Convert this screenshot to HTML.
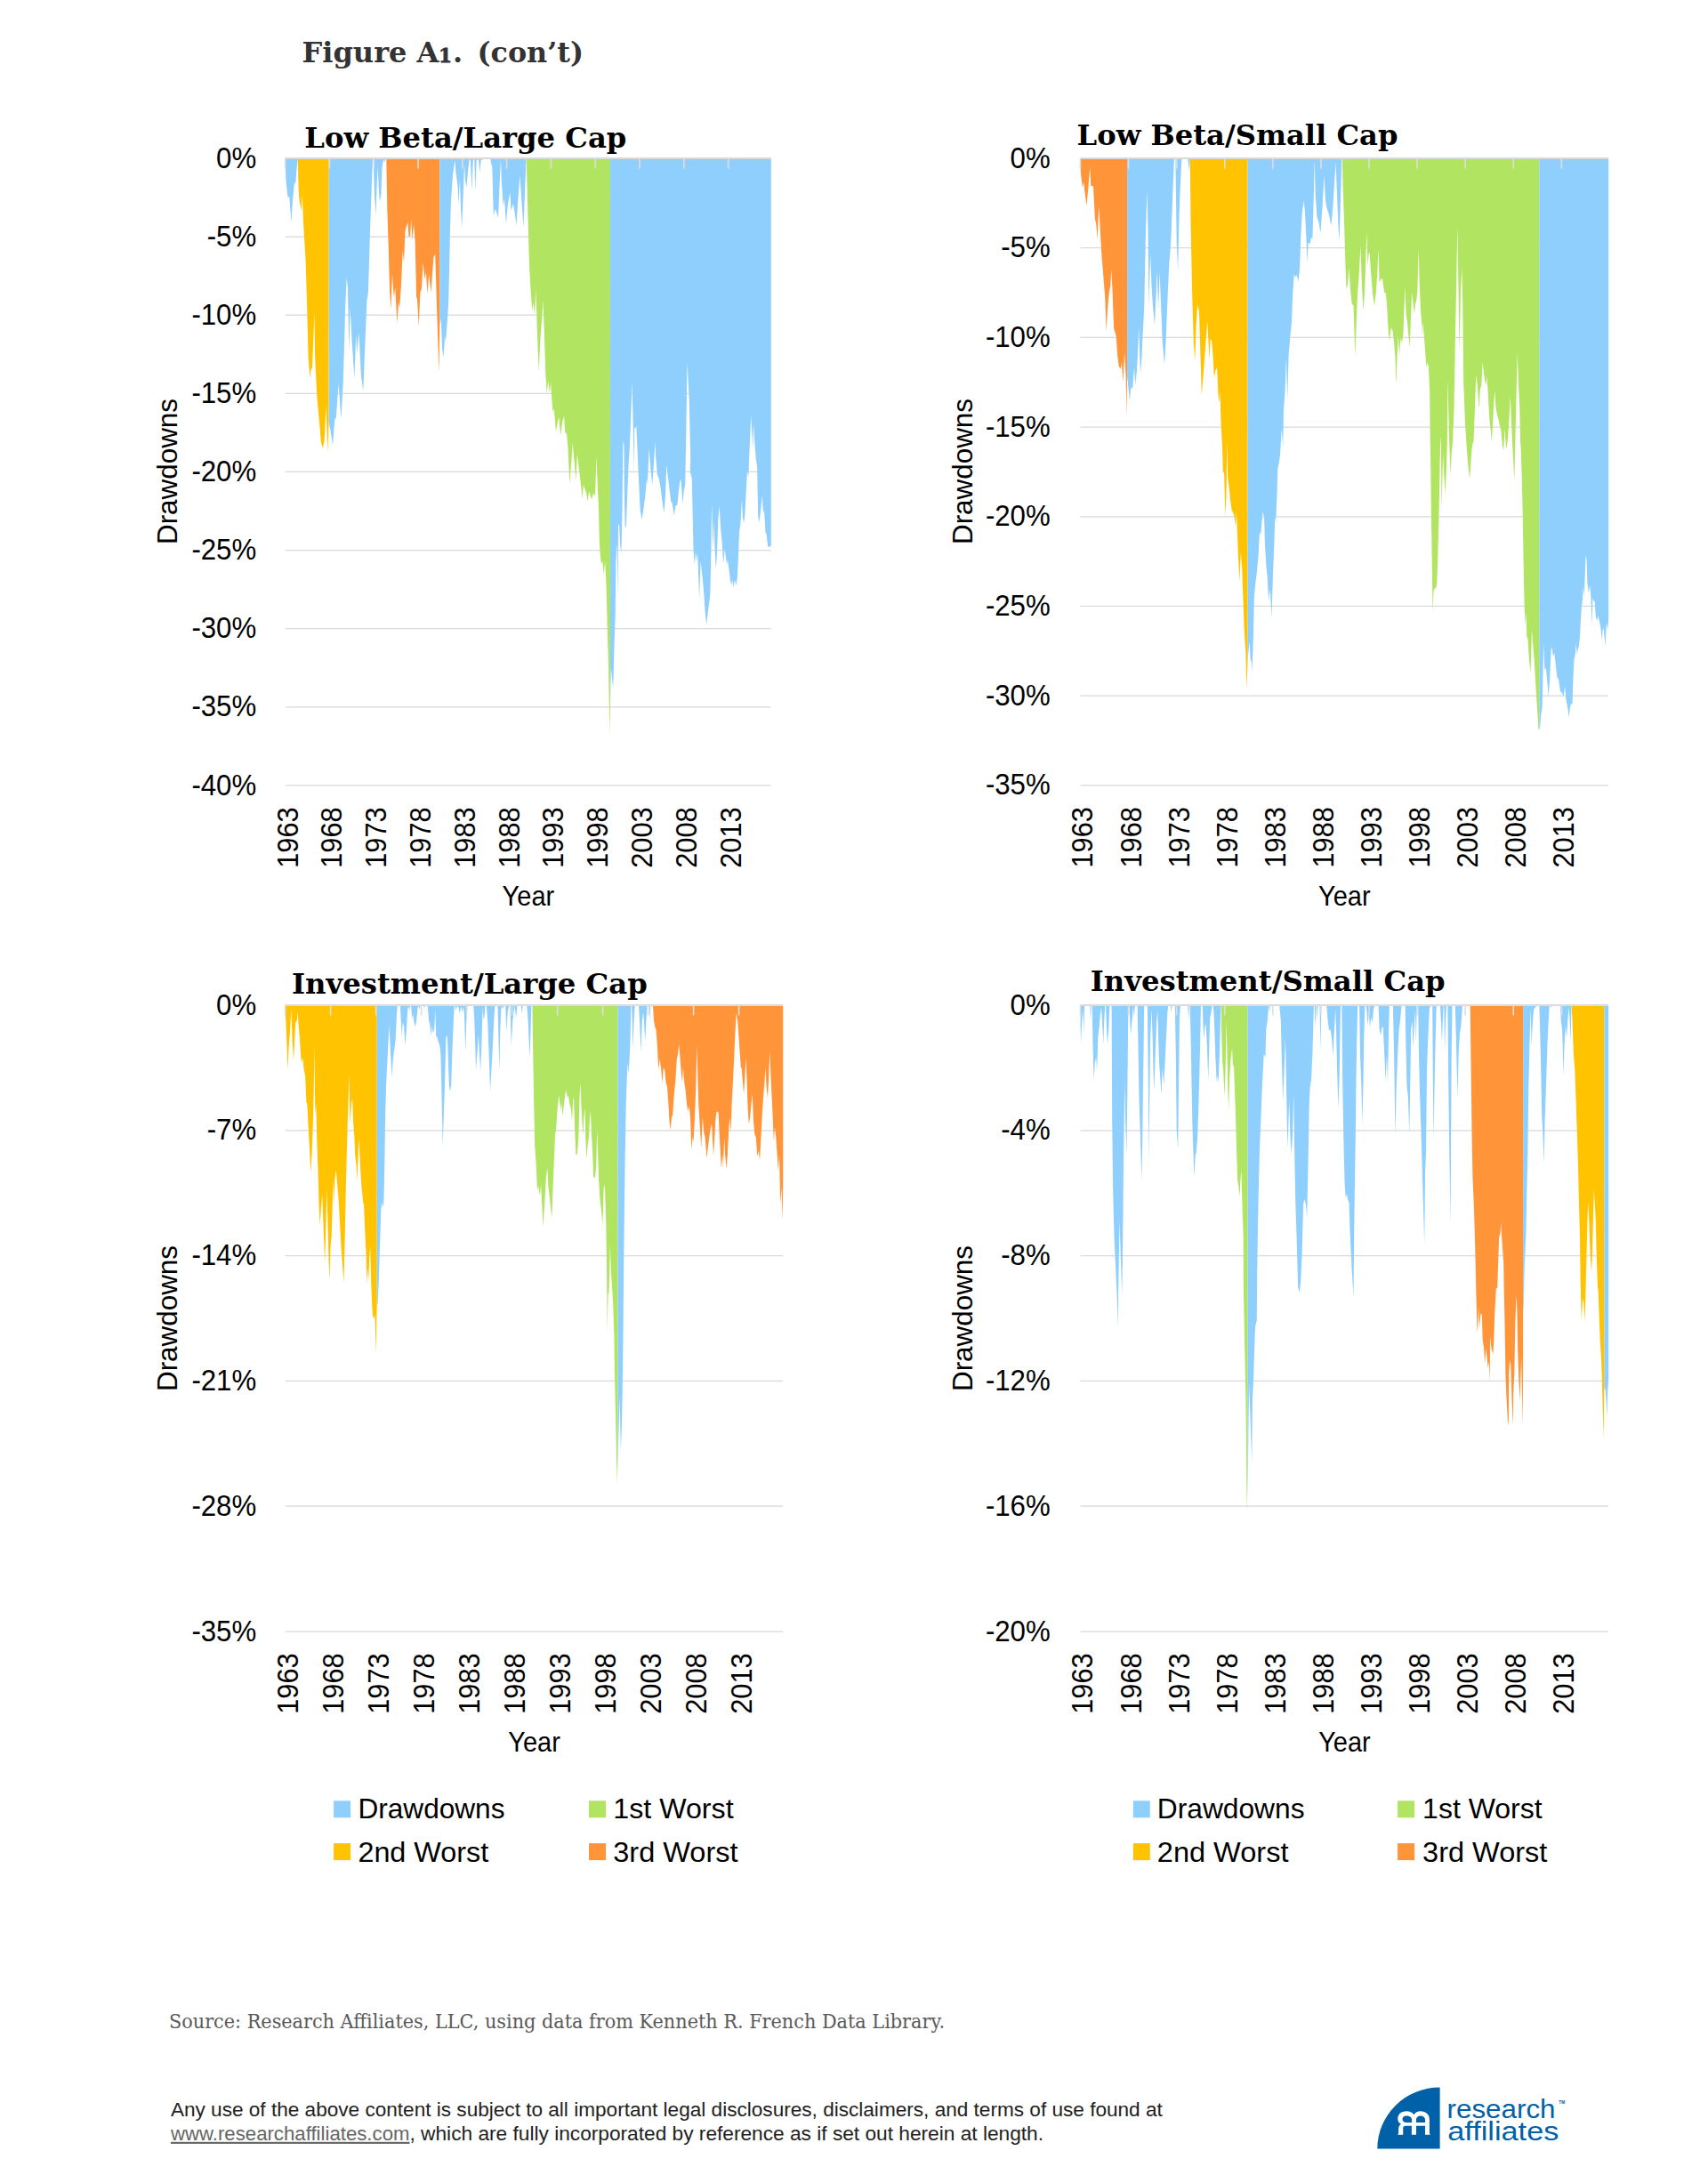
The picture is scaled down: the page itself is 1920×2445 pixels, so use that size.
<!DOCTYPE html>
<html lang="en"><head><meta charset="utf-8"><title>Figure A1. (con’t)</title>
<style>
html,body{margin:0;padding:0;background:#fff}
svg{display:block}
.ax{font-family:"Liberation Sans", Arial, sans-serif;font-size:32.5px;fill:#000}
.al{font-family:"Liberation Sans", Arial, sans-serif;font-size:30.5px;fill:#000}
.ttl{font-family:"DejaVu Serif", "Liberation Serif", serif;font-weight:bold;font-size:31px;fill:#000}
.fig{font-family:"DejaVu Serif", "Liberation Serif", serif;font-weight:bold;font-size:32px;fill:#333}
.sline{font-family:"DejaVu Serif", "Liberation Serif", serif;font-size:22.3px;fill:#5a5a5a}
.dis{font-family:"Liberation Sans", Arial, sans-serif;font-size:21.5px;fill:#222}
.logo{font-family:"Liberation Sans", Arial, sans-serif;font-size:29.5px;fill:#0061A9}
</style></head><body>
<svg width="1920" height="2445" viewBox="0 0 1920 2445">
<rect width="1920" height="2445" fill="#fff"/>
<line x1="320.6" x2="866.7" y1="178.00" y2="178.00" stroke="#D9D9D9" stroke-width="1.25"/>
<line x1="320.6" x2="866.7" y1="266.12" y2="266.12" stroke="#D9D9D9" stroke-width="1.25"/>
<line x1="320.6" x2="866.7" y1="354.24" y2="354.24" stroke="#D9D9D9" stroke-width="1.25"/>
<line x1="320.6" x2="866.7" y1="442.36" y2="442.36" stroke="#D9D9D9" stroke-width="1.25"/>
<line x1="320.6" x2="866.7" y1="530.48" y2="530.48" stroke="#D9D9D9" stroke-width="1.25"/>
<line x1="320.6" x2="866.7" y1="618.60" y2="618.60" stroke="#D9D9D9" stroke-width="1.25"/>
<line x1="320.6" x2="866.7" y1="706.72" y2="706.72" stroke="#D9D9D9" stroke-width="1.25"/>
<line x1="320.6" x2="866.7" y1="794.84" y2="794.84" stroke="#D9D9D9" stroke-width="1.25"/>
<line x1="320.6" x2="866.7" y1="882.96" y2="882.96" stroke="#D9D9D9" stroke-width="1.25"/>
<polygon fill="#8FCFFD" points="320.6,178.9 320.6,178.9 321.5,203.1 323.4,220.9 325.3,221.8 327.5,249.9 329.0,225.6 330.9,205.0 332.2,206.8 333.7,188.1 334.8,178.9 334.8,178.9"/>
<polygon fill="#FFC301" points="334.8,178.9 334.8,178.9 335.6,212.5 336.5,225.6 338.8,236.8 339.7,218.1 341.2,253.7 343.5,291.1 345.0,338.0 346.5,399.8 348.3,425.1 349.3,416.7 351.0,412.9 353.4,351.1 354.0,397.9 356.2,444.8 359.0,474.8 360.9,497.2 362.8,503.8 364.6,495.4 366.5,456.0 368.4,508.5 369.5,478.5 369.7,178.9 369.7,178.9"/>
<polygon fill="#8FCFFD" points="369.7,178.9 369.7,178.9 369.7,474.8 372.1,487.9 374.0,500.0 376.4,471.0 377.8,470.1 380.6,431.7 383.4,471.0 385.8,429.8 388.1,347.4 389.6,312.7 390.9,323.0 392.4,394.2 393.7,345.5 395.6,383.0 398.4,425.1 400.2,375.5 401.2,397.9 403.4,373.6 405.9,422.3 408.3,439.2 410.5,384.8 412.4,338.0 413.9,328.6 416.2,253.7 418.0,203.1 419.0,178.9 419.9,178.9 420.8,216.2 422.3,242.4 423.7,206.8 424.6,186.2 425.9,214.3 426.8,226.5 428.3,220.0 429.6,188.1 431.1,178.9 432.1,182.5 433.4,178.9 433.4,178.9"/>
<polygon fill="#FF9438" points="434.3,178.9 434.3,178.9 435.3,234.9 436.8,279.9 438.1,328.6 439.6,347.4 440.9,308.0 442.8,334.2 444.3,323.0 446.3,363.3 448.0,339.9 449.1,346.4 450.8,323.0 452.7,281.8 454.0,294.9 455.5,259.3 458.3,249.9 459.6,266.8 461.1,264.9 462.2,246.2 463.6,270.5 465.2,251.8 466.7,272.4 468.1,334.2 469.0,336.1 470.7,367.0 472.4,328.6 473.9,324.9 475.6,294.9 477.4,313.6 478.9,306.1 480.4,330.5 482.1,308.0 484.5,328.6 487.4,289.3 489.2,285.5 491.1,347.4 493.5,418.5 494.3,366.1 494.3,178.9 494.3,178.9"/>
<polygon fill="#8FCFFD" points="494.3,178.9 494.3,178.9 494.3,366.1 495.8,358.6 497.1,392.3 498.6,401.7 500.1,377.3 501.0,384.8 502.3,368.0 504.2,339.9 506.1,253.7 507.0,225.6 508.9,197.5 511.3,180.6 512.6,195.6 514.5,208.7 515.5,229.3 517.0,201.2 517.9,231.2 519.2,256.5 520.3,229.3 522.0,184.4 523.0,203.1 524.4,210.6 526.3,190.0 527.6,178.9 528.9,180.6 530.4,214.3 531.8,180.6 533.3,178.9 534.2,215.3 535.7,180.6 537.9,178.9 539.4,193.7 540.7,179.7 543.6,178.9 543.6,178.9"/>
<polygon fill="#8FCFFD" points="551.1,178.9 551.1,178.9 553.3,188.1 554.8,242.4 556.7,234.9 558.2,238.7 560.0,245.2 561.7,205.0 563.0,178.9 563.8,203.1 565.7,231.2 567.0,223.7 568.9,251.8 570.7,231.2 573.2,216.2 574.5,236.8 576.9,229.3 578.6,238.7 580.5,253.7 582.0,229.3 584.4,197.5 586.3,225.6 588.5,255.6 590.0,216.2 591.5,178.9 591.5,178.9"/>
<polygon fill="#B0E461" points="591.8,178.9 591.8,178.9 592.7,216.2 594.1,264.9 595.0,298.6 596.5,324.9 598.2,349.2 599.7,339.9 601.0,353.9 602.5,324.9 603.8,371.7 605.7,417.6 607.5,379.2 609.4,354.8 610.5,338.0 611.9,375.5 613.2,418.5 614.7,442.9 616.2,427.9 618.0,442.0 619.0,429.8 620.3,448.5 621.6,463.5 622.7,459.8 625.0,485.1 626.8,474.8 628.3,469.1 630.2,489.7 632.1,474.8 634.0,467.3 635.3,486.0 637.1,487.9 638.5,502.9 640.3,544.0 642.2,520.6 643.7,498.1 645.6,518.7 647.4,539.3 648.9,510.3 651.2,530.0 653.1,545.0 654.6,560.9 655.9,545.0 657.8,550.6 659.1,554.3 660.6,563.7 662.1,552.5 663.4,556.2 665.2,561.8 667.1,554.3 669.0,558.1 670.5,513.1 671.8,546.8 673.1,574.9 673.7,604.9 674.6,621.8 675.9,634.0 677.4,631.1 678.7,646.1 680.2,631.1 681.2,649.9 682.1,678.0 683.0,715.5 684.0,751.1 684.9,799.8 685.5,826.0 685.9,792.3 685.9,178.9 685.9,178.9"/>
<polygon fill="#8FCFFD" points="685.9,178.9 685.9,178.9 685.9,792.3 686.8,751.1 689.2,773.5 690.5,724.8 691.7,691.1 692.4,631.1 693.3,612.4 693.7,616.2 694.5,674.2 695.0,589.9 696.2,589.9 697.1,612.4 698.4,621.8 699.5,574.9 700.3,500.0 700.8,495.4 701.4,500.0 701.8,556.2 702.7,594.6 704.0,589.9 705.2,556.2 706.5,524.4 708.0,500.0 710.6,429.8 711.7,478.5 712.5,530.0 713.2,480.4 714.1,482.2 715.3,478.5 716.4,502.9 717.7,532.8 719.6,573.1 721.5,584.3 723.3,573.1 725.2,558.1 727.1,537.5 728.0,545.0 729.5,503.7 731.4,528.1 733.3,545.0 735.1,518.7 736.4,497.2 737.4,516.0 738.9,533.7 740.7,537.5 742.6,548.7 744.5,563.7 746.4,576.8 748.1,556.2 749.2,522.5 750.5,533.7 752.4,548.7 754.2,563.7 755.7,565.6 757.6,579.6 759.5,568.4 761.4,567.4 762.7,554.3 764.5,540.3 765.5,539.3 767.4,566.5 768.9,550.6 770.2,545.0 771.1,497.2 772.6,407.3 774.8,450.4 776.2,516.0 775.8,530.0 777.7,537.5 778.6,574.9 779.5,618.0 780.8,634.9 782.0,619.9 782.9,631.1 784.2,621.8 786.1,672.4 787.6,631.1 788.9,642.4 790.8,661.1 792.6,687.4 794.1,702.3 796.4,683.6 798.3,668.6 799.2,631.1 800.1,565.6 801.5,616.2 802.6,586.2 803.5,616.2 804.8,640.5 806.1,619.9 807.3,584.3 808.6,568.4 810.1,593.7 811.4,606.8 813.3,634.0 814.6,616.2 816.1,627.4 817.0,634.9 817.9,629.3 819.8,642.4 820.7,650.8 822.2,658.3 823.2,651.8 824.5,660.2 826.0,651.8 827.3,658.3 828.8,649.9 830.1,621.8 831.1,597.4 832.4,589.0 833.9,561.8 834.8,580.6 836.1,588.1 837.2,580.6 838.5,556.2 840.0,530.0 841.4,535.6 842.3,511.2 844.2,467.3 845.7,493.5 846.2,506.6 847.0,476.6 848.3,497.2 849.8,516.0 851.1,524.4 851.7,556.2 852.2,580.6 853.5,587.1 855.0,574.9 856.7,557.1 857.8,573.1 859.2,576.8 860.5,599.3 861.6,600.2 862.9,612.4 863.8,615.2 865.2,614.3 866.8,613.3 866.8,178.9 866.8,178.9"/>
<line x1="320.6" x2="866.7" y1="178.00" y2="178.00" stroke="#D9D9D9" stroke-width="1.8"/>
<line x1="320.6" x2="320.6" y1="178.0" y2="189.5" stroke="#DEDEDE" stroke-width="1.6"/>
<line x1="370.4" x2="370.4" y1="178.0" y2="189.5" stroke="#DEDEDE" stroke-width="1.6"/>
<line x1="420.2" x2="420.2" y1="178.0" y2="189.5" stroke="#DEDEDE" stroke-width="1.6"/>
<line x1="470.0" x2="470.0" y1="178.0" y2="189.5" stroke="#DEDEDE" stroke-width="1.6"/>
<line x1="519.8" x2="519.8" y1="178.0" y2="189.5" stroke="#DEDEDE" stroke-width="1.6"/>
<line x1="569.6" x2="569.6" y1="178.0" y2="189.5" stroke="#DEDEDE" stroke-width="1.6"/>
<line x1="619.4" x2="619.4" y1="178.0" y2="189.5" stroke="#DEDEDE" stroke-width="1.6"/>
<line x1="669.2" x2="669.2" y1="178.0" y2="189.5" stroke="#DEDEDE" stroke-width="1.6"/>
<line x1="719.0" x2="719.0" y1="178.0" y2="189.5" stroke="#DEDEDE" stroke-width="1.6"/>
<line x1="768.8" x2="768.8" y1="178.0" y2="189.5" stroke="#DEDEDE" stroke-width="1.6"/>
<line x1="818.6" x2="818.6" y1="178.0" y2="189.5" stroke="#DEDEDE" stroke-width="1.6"/>
<text transform="translate(288.2,188.6) scale(0.96,1)" text-anchor="end" class="ax">0%</text>
<text transform="translate(288.2,276.7) scale(0.96,1)" text-anchor="end" class="ax">-5%</text>
<text transform="translate(288.2,364.8) scale(0.96,1)" text-anchor="end" class="ax">-10%</text>
<text transform="translate(288.2,453.0) scale(0.96,1)" text-anchor="end" class="ax">-15%</text>
<text transform="translate(288.2,541.1) scale(0.96,1)" text-anchor="end" class="ax">-20%</text>
<text transform="translate(288.2,629.2) scale(0.96,1)" text-anchor="end" class="ax">-25%</text>
<text transform="translate(288.2,717.3) scale(0.96,1)" text-anchor="end" class="ax">-30%</text>
<text transform="translate(288.2,805.4) scale(0.96,1)" text-anchor="end" class="ax">-35%</text>
<text transform="translate(288.2,893.6) scale(0.96,1)" text-anchor="end" class="ax">-40%</text>
<text transform="translate(334.6,907.4) rotate(-90) scale(0.945,1)" text-anchor="end" class="ax">1963</text>
<text transform="translate(384.4,907.4) rotate(-90) scale(0.945,1)" text-anchor="end" class="ax">1968</text>
<text transform="translate(434.2,907.4) rotate(-90) scale(0.945,1)" text-anchor="end" class="ax">1973</text>
<text transform="translate(484.0,907.4) rotate(-90) scale(0.945,1)" text-anchor="end" class="ax">1978</text>
<text transform="translate(533.8,907.4) rotate(-90) scale(0.945,1)" text-anchor="end" class="ax">1983</text>
<text transform="translate(583.6,907.4) rotate(-90) scale(0.945,1)" text-anchor="end" class="ax">1988</text>
<text transform="translate(633.4,907.4) rotate(-90) scale(0.945,1)" text-anchor="end" class="ax">1993</text>
<text transform="translate(683.2,907.4) rotate(-90) scale(0.945,1)" text-anchor="end" class="ax">1998</text>
<text transform="translate(733.0,907.4) rotate(-90) scale(0.945,1)" text-anchor="end" class="ax">2003</text>
<text transform="translate(782.8,907.4) rotate(-90) scale(0.945,1)" text-anchor="end" class="ax">2008</text>
<text transform="translate(832.6,907.4) rotate(-90) scale(0.945,1)" text-anchor="end" class="ax">2013</text>
<text x="342.3" y="165.7" class="ttl" textLength="362.0" lengthAdjust="spacingAndGlyphs">Low Beta/Large Cap</text>
<text x="564.6" y="1017.5" class="al" textLength="58.6" lengthAdjust="spacingAndGlyphs">Year</text>
<text transform="translate(198.7,612.0) rotate(-90)" class="al" textLength="164" lengthAdjust="spacingAndGlyphs">Drawdowns</text>
<line x1="1214.4" x2="1808.2" y1="178.00" y2="178.00" stroke="#D9D9D9" stroke-width="1.25"/>
<line x1="1214.4" x2="1808.2" y1="278.69" y2="278.69" stroke="#D9D9D9" stroke-width="1.25"/>
<line x1="1214.4" x2="1808.2" y1="379.38" y2="379.38" stroke="#D9D9D9" stroke-width="1.25"/>
<line x1="1214.4" x2="1808.2" y1="480.07" y2="480.07" stroke="#D9D9D9" stroke-width="1.25"/>
<line x1="1214.4" x2="1808.2" y1="580.76" y2="580.76" stroke="#D9D9D9" stroke-width="1.25"/>
<line x1="1214.4" x2="1808.2" y1="681.45" y2="681.45" stroke="#D9D9D9" stroke-width="1.25"/>
<line x1="1214.4" x2="1808.2" y1="782.14" y2="782.14" stroke="#D9D9D9" stroke-width="1.25"/>
<line x1="1214.4" x2="1808.2" y1="882.83" y2="882.83" stroke="#D9D9D9" stroke-width="1.25"/>
<polygon fill="#FF9438" points="1214.4,178.9 1214.4,178.9 1215.0,195.6 1216.9,210.6 1218.2,205.0 1219.7,218.1 1221.5,231.2 1223.4,210.6 1225.3,188.1 1226.2,208.7 1229.0,209.6 1230.9,246.2 1232.2,251.8 1233.7,268.7 1235.2,231.2 1236.5,253.7 1238.4,287.4 1240.3,309.9 1242.2,334.2 1243.7,372.6 1245.0,347.4 1246.8,328.6 1248.3,321.1 1249.3,302.4 1250.6,328.6 1252.1,368.9 1253.4,373.6 1254.7,378.3 1256.2,399.8 1257.7,412.0 1259.6,414.8 1260.9,407.3 1262.4,429.8 1264.1,396.1 1265.6,422.3 1266.5,469.1 1267.1,422.3 1267.1,178.9 1267.1,178.9"/>
<polygon fill="#8FCFFD" points="1267.1,178.9 1267.1,178.9 1267.1,422.3 1268.4,435.4 1269.9,451.3 1271.2,435.4 1272.1,437.3 1273.4,434.5 1274.9,412.9 1276.3,432.6 1277.8,418.5 1278.7,403.6 1280.2,368.0 1281.9,419.5 1283.4,403.6 1284.7,373.6 1286.2,347.4 1287.7,272.4 1289.4,214.3 1290.5,257.4 1291.4,343.6 1293.1,285.5 1294.6,323.0 1295.9,343.6 1298.0,365.2 1299.7,328.6 1300.6,304.3 1302.1,347.4 1303.6,306.1 1304.9,338.0 1306.8,384.8 1309.0,410.1 1310.5,384.8 1312.4,338.0 1314.3,296.8 1316.2,272.4 1318.0,225.6 1319.9,178.9 1321.4,178.9 1322.7,272.4 1324.2,304.3 1325.2,253.7 1326.5,216.2 1328.3,178.9 1328.3,178.9"/>
<polygon fill="#8FCFFD" points="1335.3,178.9 1335.3,178.9 1336.8,191.9 1337.7,178.9 1337.7,178.9"/>
<polygon fill="#FFC301" points="1337.7,178.9 1337.7,178.9 1338.6,253.7 1340.1,328.6 1341.8,384.8 1343.3,405.4 1344.6,366.1 1346.1,341.7 1348.0,351.1 1349.3,394.2 1350.8,444.8 1352.7,420.4 1354.6,396.1 1355.9,377.3 1357.4,361.4 1358.3,381.1 1359.6,403.6 1360.7,381.1 1362.1,383.0 1363.4,397.9 1364.9,424.2 1366.4,416.7 1368.1,412.9 1369.6,446.7 1370.5,452.3 1371.4,439.2 1372.7,478.5 1373.9,500.0 1374.8,530.0 1376.1,531.9 1377.4,580.6 1378.5,556.2 1379.3,495.3 1380.2,537.5 1381.7,548.7 1383.0,561.8 1384.5,573.1 1386.0,575.9 1387.4,579.6 1388.7,591.8 1389.8,574.9 1390.7,593.7 1392.0,627.4 1393.5,653.6 1394.8,619.9 1396.2,638.6 1397.3,668.6 1398.6,706.1 1399.5,721.1 1400.5,736.1 1401.4,775.4 1402.5,743.6 1402.5,178.9 1402.5,178.9"/>
<polygon fill="#8FCFFD" points="1402.5,178.9 1402.5,178.9 1402.5,743.6 1403.3,734.2 1404.6,721.1 1405.7,741.7 1406.7,743.6 1407.6,753.9 1408.9,715.5 1409.8,672.4 1411.3,655.5 1412.6,646.1 1414.5,625.5 1416.0,597.4 1417.3,601.2 1418.8,582.4 1419.6,574.9 1421.1,582.4 1422.0,612.4 1423.3,634.9 1424.8,649.9 1426.1,676.1 1427.3,663.0 1428.2,668.6 1429.5,693.9 1430.8,649.9 1432.3,612.4 1433.3,580.6 1434.2,588.1 1435.1,565.6 1436.4,526.2 1437.9,518.7 1439.3,500.0 1437.0,525.3 1438.9,512.2 1440.7,482.2 1442.2,502.9 1443.0,459.8 1444.5,441.0 1445.8,401.7 1447.3,448.5 1448.6,399.8 1450.1,381.1 1452.0,362.3 1453.3,328.6 1454.8,308.0 1456.3,311.8 1457.6,308.9 1459.5,316.4 1461.0,302.4 1462.3,264.9 1463.8,238.7 1465.7,225.6 1467.0,238.7 1468.3,264.9 1469.4,294.9 1470.7,272.4 1472.6,274.3 1473.9,266.8 1475.4,268.7 1476.9,216.2 1477.7,180.6 1478.8,220.0 1480.5,244.3 1482.5,249.9 1484.4,262.1 1486.1,238.7 1488.5,197.5 1490.0,225.6 1491.3,233.1 1493.2,238.7 1494.5,244.3 1496.4,253.7 1497.9,238.7 1499.8,208.7 1501.6,182.5 1503.1,221.8 1504.4,253.7 1505.6,270.5 1506.7,234.9 1508.2,178.9 1508.2,178.9"/>
<polygon fill="#B0E461" points="1508.8,178.9 1508.8,178.9 1509.7,212.5 1511.2,253.7 1512.2,291.1 1513.5,324.9 1515.0,319.3 1516.5,300.5 1517.8,323.0 1519.7,341.7 1521.5,343.6 1523.4,400.7 1524.9,356.7 1526.2,328.6 1527.7,308.0 1529.4,276.2 1530.9,319.3 1532.4,349.2 1534.1,328.6 1535.6,281.8 1536.5,261.2 1537.5,298.6 1538.8,283.7 1539.7,285.5 1541.2,308.0 1543.1,330.5 1545.0,343.6 1546.8,328.6 1548.3,306.1 1549.6,279.9 1550.6,317.4 1552.5,313.6 1554.0,313.6 1555.3,323.0 1556.6,330.5 1557.7,328.6 1559.0,341.7 1560.3,366.1 1561.8,383.9 1563.7,368.0 1565.6,372.6 1567.1,384.8 1568.4,401.7 1569.5,432.6 1570.8,394.2 1571.8,377.3 1573.1,399.8 1574.4,380.1 1575.9,385.8 1577.4,375.5 1578.3,349.2 1579.6,323.0 1580.6,353.0 1581.9,362.3 1583.4,377.3 1584.7,390.4 1585.8,362.3 1587.1,328.6 1588.4,339.9 1589.9,353.0 1590.9,341.7 1592.2,338.0 1593.3,328.6 1594.6,279.9 1595.6,315.5 1596.9,347.4 1598.4,366.1 1598.7,378.3 1599.3,362.3 1600.6,375.5 1602.1,394.2 1603.4,412.9 1604.5,407.3 1605.9,412.0 1607.2,441.0 1607.7,497.2 1607.9,500.0 1609.0,584.3 1610.0,649.9 1610.5,687.4 1611.5,664.9 1613.0,661.1 1614.3,661.1 1615.2,655.5 1616.2,631.1 1617.1,593.7 1618.0,556.2 1619.0,500.0 1619.5,490.6 1619.9,500.0 1620.5,574.0 1621.4,537.5 1622.2,510.3 1623.3,533.7 1624.6,555.3 1625.9,528.1 1626.8,500.0 1627.4,426.0 1629.3,500.0 1630.6,533.7 1631.7,509.4 1633.0,497.2 1634.5,459.8 1635.8,384.8 1637.3,309.9 1638.3,255.6 1639.6,328.6 1640.5,396.1 1642.0,328.6 1643.3,299.6 1644.3,347.4 1645.2,429.8 1647.1,478.5 1648.6,501.0 1650.4,523.5 1652.1,538.5 1653.6,516.0 1655.1,499.1 1656.4,497.2 1657.9,459.8 1659.3,421.4 1660.7,431.7 1662.6,459.8 1663.9,437.3 1665.2,433.5 1666.7,407.3 1668.1,420.4 1669.6,429.8 1670.5,433.5 1671.4,422.3 1672.7,441.0 1674.2,469.1 1675.6,482.2 1676.7,495.4 1678.0,478.5 1679.3,452.3 1680.2,439.2 1681.7,459.8 1683.2,467.3 1684.5,471.0 1685.9,478.5 1687.4,484.1 1688.9,501.0 1690.2,506.6 1691.5,482.2 1693.3,504.7 1694.8,495.4 1696.2,474.8 1697.7,444.8 1699.2,478.5 1700.5,506.6 1702.3,540.3 1703.3,497.2 1704.6,441.0 1705.7,397.0 1707.0,431.7 1708.3,459.8 1709.1,497.2 1709.5,500.0 1710.8,537.5 1711.7,578.7 1712.6,631.1 1713.6,679.9 1714.5,703.3 1715.5,687.4 1716.4,717.3 1717.3,716.4 1718.8,739.8 1720.5,756.7 1722.0,708.0 1723.3,724.8 1724.8,743.6 1726.7,777.3 1728.2,799.8 1729.5,820.4 1730.3,818.5 1730.3,178.9 1730.3,178.9"/>
<polygon fill="#8FCFFD" points="1730.3,178.9 1730.3,178.9 1730.3,818.5 1731.0,820.4 1732.3,803.5 1733.8,794.1 1735.1,723.0 1736.4,752.9 1737.9,751.1 1739.3,766.0 1740.7,782.9 1742.2,762.3 1743.6,730.4 1744.5,727.6 1746.0,737.9 1747.3,734.2 1748.8,747.3 1750.5,762.3 1752.0,763.2 1753.9,777.3 1755.7,778.2 1757.6,782.9 1759.1,771.7 1760.4,786.7 1762.3,796.0 1763.6,806.3 1765.1,794.1 1766.4,790.4 1767.5,792.3 1768.5,762.3 1769.4,741.7 1770.7,736.1 1771.7,723.0 1772.6,736.1 1773.5,730.4 1774.8,726.7 1776.0,715.5 1776.9,696.7 1777.8,683.6 1778.8,676.1 1779.7,659.3 1780.7,670.5 1781.6,649.9 1782.5,623.7 1783.5,629.3 1784.4,655.5 1785.7,666.7 1787.2,657.4 1788.5,672.4 1789.5,703.3 1790.4,672.4 1791.7,676.1 1792.6,675.2 1793.8,693.0 1795.1,697.7 1796.4,692.0 1797.9,698.6 1799.2,704.2 1800.7,719.2 1802.0,705.2 1803.1,709.8 1804.4,726.7 1805.9,700.5 1807.3,708.0 1808.2,694.8 1808.2,178.9 1808.2,178.9"/>
<line x1="1214.4" x2="1808.2" y1="178.00" y2="178.00" stroke="#D9D9D9" stroke-width="1.8"/>
<line x1="1214.4" x2="1214.4" y1="178.0" y2="189.5" stroke="#DEDEDE" stroke-width="1.6"/>
<line x1="1268.5" x2="1268.5" y1="178.0" y2="189.5" stroke="#DEDEDE" stroke-width="1.6"/>
<line x1="1322.6" x2="1322.6" y1="178.0" y2="189.5" stroke="#DEDEDE" stroke-width="1.6"/>
<line x1="1376.7" x2="1376.7" y1="178.0" y2="189.5" stroke="#DEDEDE" stroke-width="1.6"/>
<line x1="1430.8" x2="1430.8" y1="178.0" y2="189.5" stroke="#DEDEDE" stroke-width="1.6"/>
<line x1="1484.9" x2="1484.9" y1="178.0" y2="189.5" stroke="#DEDEDE" stroke-width="1.6"/>
<line x1="1539.0" x2="1539.0" y1="178.0" y2="189.5" stroke="#DEDEDE" stroke-width="1.6"/>
<line x1="1593.1" x2="1593.1" y1="178.0" y2="189.5" stroke="#DEDEDE" stroke-width="1.6"/>
<line x1="1647.2" x2="1647.2" y1="178.0" y2="189.5" stroke="#DEDEDE" stroke-width="1.6"/>
<line x1="1701.3" x2="1701.3" y1="178.0" y2="189.5" stroke="#DEDEDE" stroke-width="1.6"/>
<line x1="1755.4" x2="1755.4" y1="178.0" y2="189.5" stroke="#DEDEDE" stroke-width="1.6"/>
<text transform="translate(1180.7,188.6) scale(0.96,1)" text-anchor="end" class="ax">0%</text>
<text transform="translate(1180.7,289.3) scale(0.96,1)" text-anchor="end" class="ax">-5%</text>
<text transform="translate(1180.7,390.0) scale(0.96,1)" text-anchor="end" class="ax">-10%</text>
<text transform="translate(1180.7,490.7) scale(0.96,1)" text-anchor="end" class="ax">-15%</text>
<text transform="translate(1180.7,591.4) scale(0.96,1)" text-anchor="end" class="ax">-20%</text>
<text transform="translate(1180.7,692.1) scale(0.96,1)" text-anchor="end" class="ax">-25%</text>
<text transform="translate(1180.7,792.7) scale(0.96,1)" text-anchor="end" class="ax">-30%</text>
<text transform="translate(1180.7,893.4) scale(0.96,1)" text-anchor="end" class="ax">-35%</text>
<text transform="translate(1228.4,907.2) rotate(-90) scale(0.945,1)" text-anchor="end" class="ax">1963</text>
<text transform="translate(1282.5,907.2) rotate(-90) scale(0.945,1)" text-anchor="end" class="ax">1968</text>
<text transform="translate(1336.6,907.2) rotate(-90) scale(0.945,1)" text-anchor="end" class="ax">1973</text>
<text transform="translate(1390.7,907.2) rotate(-90) scale(0.945,1)" text-anchor="end" class="ax">1978</text>
<text transform="translate(1444.8,907.2) rotate(-90) scale(0.945,1)" text-anchor="end" class="ax">1983</text>
<text transform="translate(1498.9,907.2) rotate(-90) scale(0.945,1)" text-anchor="end" class="ax">1988</text>
<text transform="translate(1553.0,907.2) rotate(-90) scale(0.945,1)" text-anchor="end" class="ax">1993</text>
<text transform="translate(1607.1,907.2) rotate(-90) scale(0.945,1)" text-anchor="end" class="ax">1998</text>
<text transform="translate(1661.2,907.2) rotate(-90) scale(0.945,1)" text-anchor="end" class="ax">2003</text>
<text transform="translate(1715.3,907.2) rotate(-90) scale(0.945,1)" text-anchor="end" class="ax">2008</text>
<text transform="translate(1769.4,907.2) rotate(-90) scale(0.945,1)" text-anchor="end" class="ax">2013</text>
<text x="1210.6" y="162.7" class="ttl" textLength="360.8" lengthAdjust="spacingAndGlyphs">Low Beta/Small Cap</text>
<text x="1482.0" y="1017.5" class="al" textLength="58.6" lengthAdjust="spacingAndGlyphs">Year</text>
<text transform="translate(1092.5,612.0) rotate(-90)" class="al" textLength="164" lengthAdjust="spacingAndGlyphs">Drawdowns</text>
<line x1="320.6" x2="880.3" y1="1129.95" y2="1129.95" stroke="#D9D9D9" stroke-width="1.25"/>
<line x1="320.6" x2="880.3" y1="1270.76" y2="1270.76" stroke="#D9D9D9" stroke-width="1.25"/>
<line x1="320.6" x2="880.3" y1="1411.57" y2="1411.57" stroke="#D9D9D9" stroke-width="1.25"/>
<line x1="320.6" x2="880.3" y1="1552.38" y2="1552.38" stroke="#D9D9D9" stroke-width="1.25"/>
<line x1="320.6" x2="880.3" y1="1693.19" y2="1693.19" stroke="#D9D9D9" stroke-width="1.25"/>
<line x1="320.6" x2="880.3" y1="1834.00" y2="1834.00" stroke="#D9D9D9" stroke-width="1.25"/>
<polygon fill="#FFC301" points="320.6,1130.9 320.6,1130.9 321.2,1145.6 322.5,1175.6 323.4,1202.7 324.7,1175.6 326.2,1156.8 327.4,1134.4 328.5,1166.2 330.0,1192.4 331.3,1166.2 332.2,1149.3 333.7,1147.5 334.7,1137.2 335.6,1153.1 336.9,1166.2 338.0,1184.9 339.0,1195.2 340.3,1188.7 341.6,1201.8 343.1,1209.3 344.4,1239.3 345.3,1241.1 346.5,1265.5 347.8,1288.0 349.3,1318.0 350.6,1297.4 351.9,1259.9 352.8,1222.4 353.4,1175.6 354.3,1252.4 355.3,1241.1 356.2,1278.6 357.5,1316.1 358.5,1353.6 359.6,1377.0 360.9,1359.2 362.2,1342.3 363.7,1381.7 365.2,1420.1 366.5,1372.3 367.4,1336.7 368.4,1372.3 369.3,1409.8 370.4,1439.7 371.6,1400.4 372.7,1389.2 374.0,1344.2 374.9,1325.5 375.5,1353.6 376.4,1325.5 377.8,1315.2 379.1,1331.1 380.6,1347.9 381.9,1372.3 383.4,1400.4 384.9,1421.0 386.4,1442.6 387.7,1391.0 389.0,1325.5 390.3,1278.6 391.4,1241.1 392.4,1207.4 393.1,1241.1 393.7,1262.7 395.0,1241.1 396.1,1234.6 397.0,1259.9 398.4,1278.6 399.3,1299.2 400.6,1310.5 401.5,1327.3 402.7,1297.4 403.4,1278.6 404.5,1301.1 405.9,1327.3 406.8,1336.7 408.1,1351.7 409.0,1353.6 410.2,1381.7 411.5,1409.8 412.4,1444.4 413.3,1424.8 414.3,1439.7 415.2,1413.5 416.2,1400.4 417.1,1437.9 418.0,1462.2 419.0,1479.1 420.3,1482.8 421.4,1477.2 422.5,1521.2 423.7,1466.0 423.7,1130.9 423.7,1130.9"/>
<polygon fill="#8FCFFD" points="423.7,1130.9 423.7,1130.9 423.7,1466.0 424.6,1466.0 425.9,1437.9 427.0,1400.4 428.3,1359.2 429.6,1351.7 431.1,1357.3 431.7,1338.6 432.5,1297.4 433.0,1259.9 434.0,1222.4 435.3,1194.3 436.8,1166.2 437.7,1153.1 438.6,1175.6 439.6,1194.3 440.5,1211.2 441.8,1190.6 443.3,1179.3 444.6,1170.0 445.8,1143.7 446.7,1130.9 446.7,1130.9"/>
<polygon fill="#8FCFFD" points="449.9,1130.9 449.9,1130.9 450.8,1147.5 451.8,1166.2 452.7,1149.3 454.0,1153.1 455.5,1175.6 457.0,1156.8 458.3,1134.4 459.3,1130.9 460.2,1136.2 461.1,1130.9 462.1,1130.9 463.4,1145.6 464.3,1140.0 465.8,1151.2 466.7,1154.0 468.1,1147.5 469.6,1132.5 470.5,1130.9 471.4,1134.4 472.4,1130.9 472.4,1130.9"/>
<polygon fill="#8FCFFD" points="476.1,1130.9 476.1,1130.9 477.0,1132.5 478.0,1130.9 480.8,1130.9 482.1,1147.5 483.2,1151.2 484.5,1164.3 485.5,1153.1 486.8,1161.5 488.3,1156.8 489.2,1134.4 490.2,1164.3 491.5,1166.2 493.0,1171.8 494.3,1175.6 495.4,1184.9 496.3,1222.4 497.7,1288.0 498.6,1259.9 499.9,1222.4 501.4,1166.2 502.9,1164.3 504.2,1203.7 505.2,1228.0 506.1,1220.5 507.0,1226.2 508.3,1184.9 509.8,1147.5 510.8,1130.9 511.7,1130.9 512.6,1136.2 513.6,1130.9 515.5,1132.5 516.8,1139.0 518.3,1130.9 519.8,1138.1 521.1,1130.9 522.0,1141.9 523.3,1183.1 524.3,1147.5 525.4,1130.9 525.4,1130.9"/>
<polygon fill="#8FCFFD" points="532.3,1130.9 532.3,1130.9 533.3,1147.5 534.2,1175.6 535.1,1202.7 536.4,1184.9 537.9,1162.5 538.9,1184.9 540.2,1203.7 541.3,1175.6 542.6,1132.5 543.6,1145.6 544.5,1143.7 545.4,1130.9 546.9,1130.9 548.2,1147.5 549.6,1184.9 551.1,1227.1 552.4,1203.7 553.9,1175.6 555.2,1147.5 556.3,1130.9 556.3,1130.9"/>
<polygon fill="#8FCFFD" points="559.5,1130.9 559.5,1130.9 560.4,1166.2 561.4,1204.6 562.3,1156.8 563.6,1130.9 565.1,1134.4 566.0,1130.9 568.3,1130.9 569.4,1160.6 570.7,1138.1 572.0,1130.9 573.5,1130.9 574.8,1175.6 576.3,1147.5 577.7,1136.2 578.6,1130.9 580.1,1144.7 581.4,1130.9 581.4,1130.9"/>
<polygon fill="#8FCFFD" points="585.7,1130.9 585.7,1130.9 586.7,1139.0 587.6,1130.9 587.6,1130.9"/>
<polygon fill="#8FCFFD" points="592.3,1130.9 592.3,1130.9 593.6,1147.5 594.7,1171.8 595.6,1188.7 596.6,1156.8 597.3,1130.9 597.3,1130.9"/>
<polygon fill="#B0E461" points="598.4,1130.9 598.4,1130.9 599.1,1175.6 600.2,1241.1 601.2,1288.0 602.5,1306.7 604.0,1338.6 605.3,1333.0 606.8,1344.2 608.1,1331.1 610.5,1378.9 612.2,1353.6 613.7,1325.5 615.2,1312.3 616.5,1334.8 618.4,1351.7 620.3,1369.5 621.6,1334.8 623.1,1297.4 624.0,1274.9 625.0,1271.1 626.3,1250.5 627.8,1235.5 628.7,1231.8 630.2,1248.6 631.1,1239.3 632.5,1254.3 634.0,1241.1 635.3,1229.9 636.6,1225.2 637.7,1233.7 639.0,1231.8 640.3,1241.1 641.8,1246.8 643.0,1259.9 644.1,1237.4 645.0,1232.7 646.1,1269.3 647.4,1298.3 648.9,1297.4 650.3,1278.6 651.6,1231.8 652.5,1216.8 653.4,1241.1 654.4,1259.9 655.3,1276.7 656.4,1256.1 657.4,1244.9 658.3,1278.6 659.3,1303.0 660.6,1288.0 661.9,1278.6 662.8,1259.9 663.9,1248.6 664.9,1274.9 665.8,1288.0 667.1,1322.6 669.0,1324.5 670.3,1308.6 671.2,1269.3 672.2,1297.4 673.1,1325.5 674.2,1346.1 675.6,1357.3 677.4,1377.0 678.7,1334.8 679.9,1332.0 681.2,1372.3 682.1,1428.5 682.7,1496.9 683.6,1454.7 684.5,1452.9 685.9,1398.5 686.8,1428.5 688.1,1447.2 689.2,1466.0 690.5,1503.4 690.6,1524.0 691.7,1579.0 692.7,1621.0 693.5,1669.0 694.5,1620.0 694.5,1130.9 694.5,1130.9"/>
<polygon fill="#8FCFFD" points="694.5,1130.9 694.5,1130.9 694.5,1620.0 694.0,1662.0 696.6,1570.0 697.9,1632.0 699.0,1600.0 699.7,1565.0 700.3,1524.0 701.4,1400.0 702.7,1297.4 703.7,1241.1 704.6,1214.9 705.5,1194.3 706.5,1207.4 707.4,1194.3 708.3,1175.6 709.3,1130.9 709.3,1130.9"/>
<polygon fill="#8FCFFD" points="710.2,1130.9 710.2,1130.9 711.5,1178.4 712.6,1147.5 713.6,1130.9 713.6,1130.9"/>
<polygon fill="#8FCFFD" points="718.1,1130.9 718.1,1130.9 719.0,1147.5 720.5,1183.1 721.8,1147.5 723.0,1138.1 723.9,1147.5 725.2,1170.0 726.5,1147.5 727.4,1130.9 727.4,1130.9"/>
<polygon fill="#8FCFFD" points="729.9,1130.9 729.9,1130.9 730.4,1147.5 731.2,1130.9 731.2,1130.9"/>
<polygon fill="#FF9438" points="734.0,1130.9 734.0,1130.9 735.1,1147.5 736.4,1155.0 737.4,1156.8 738.9,1175.6 740.2,1202.7 741.5,1190.6 743.0,1199.9 744.5,1217.7 745.8,1199.9 747.3,1203.7 748.6,1216.8 750.1,1222.4 751.4,1241.1 752.4,1259.9 753.7,1270.2 755.2,1254.3 756.1,1255.2 757.0,1241.1 758.0,1228.0 759.3,1214.9 760.8,1190.6 762.1,1184.9 763.2,1173.7 764.5,1188.7 765.9,1207.4 766.8,1216.8 767.9,1199.9 769.2,1216.8 770.7,1226.2 772.0,1241.1 773.5,1249.6 774.8,1243.0 776.2,1259.9 777.3,1292.7 778.6,1278.6 779.5,1283.3 780.8,1259.9 782.3,1222.4 783.3,1174.6 784.2,1203.7 785.2,1241.1 786.7,1265.5 788.3,1289.9 789.8,1256.1 791.3,1273.0 792.6,1278.6 794.5,1302.0 795.8,1289.9 797.3,1278.6 798.6,1269.3 800.1,1263.6 802.0,1299.2 803.3,1278.6 804.3,1259.9 805.4,1249.6 807.6,1250.5 808.9,1278.6 810.8,1313.3 812.3,1297.4 812.9,1312.3 814.2,1278.6 815.1,1297.4 816.6,1314.2 817.9,1297.4 819.3,1269.3 820.4,1256.1 821.7,1273.0 822.6,1241.1 824.1,1213.0 825.4,1184.9 826.7,1156.8 827.7,1139.0 829.2,1147.5 830.5,1166.2 832.0,1188.7 832.9,1199.9 833.9,1201.8 834.8,1214.9 836.1,1229.9 837.2,1213.0 838.5,1188.7 839.5,1213.0 840.4,1241.1 841.7,1263.6 843.2,1256.1 844.5,1241.1 845.7,1229.9 847.0,1259.9 848.3,1274.9 849.8,1278.6 851.3,1300.2 852.6,1293.6 854.1,1303.9 855.4,1278.6 856.9,1250.5 858.2,1231.8 859.5,1214.9 860.5,1199.9 861.6,1222.4 862.9,1233.7 864.2,1213.0 865.3,1182.1 866.7,1214.9 868.0,1241.1 869.1,1265.5 869.8,1282.4 871.0,1267.4 872.3,1278.6 873.6,1297.4 874.7,1316.1 876.0,1297.4 877.3,1353.6 878.5,1334.8 879.8,1372.3 880.3,1325.5 880.3,1130.9 880.3,1130.9"/>
<line x1="320.6" x2="880.3" y1="1129.95" y2="1129.95" stroke="#D9D9D9" stroke-width="1.8"/>
<line x1="320.6" x2="320.6" y1="1130.0" y2="1141.5" stroke="#DEDEDE" stroke-width="1.6"/>
<line x1="371.6" x2="371.6" y1="1130.0" y2="1141.5" stroke="#DEDEDE" stroke-width="1.6"/>
<line x1="422.6" x2="422.6" y1="1130.0" y2="1141.5" stroke="#DEDEDE" stroke-width="1.6"/>
<line x1="473.6" x2="473.6" y1="1130.0" y2="1141.5" stroke="#DEDEDE" stroke-width="1.6"/>
<line x1="524.6" x2="524.6" y1="1130.0" y2="1141.5" stroke="#DEDEDE" stroke-width="1.6"/>
<line x1="575.6" x2="575.6" y1="1130.0" y2="1141.5" stroke="#DEDEDE" stroke-width="1.6"/>
<line x1="626.6" x2="626.6" y1="1130.0" y2="1141.5" stroke="#DEDEDE" stroke-width="1.6"/>
<line x1="677.6" x2="677.6" y1="1130.0" y2="1141.5" stroke="#DEDEDE" stroke-width="1.6"/>
<line x1="728.6" x2="728.6" y1="1130.0" y2="1141.5" stroke="#DEDEDE" stroke-width="1.6"/>
<line x1="779.6" x2="779.6" y1="1130.0" y2="1141.5" stroke="#DEDEDE" stroke-width="1.6"/>
<line x1="830.6" x2="830.6" y1="1130.0" y2="1141.5" stroke="#DEDEDE" stroke-width="1.6"/>
<text transform="translate(288.2,1140.5) scale(0.96,1)" text-anchor="end" class="ax">0%</text>
<text transform="translate(288.2,1281.4) scale(0.96,1)" text-anchor="end" class="ax">-7%</text>
<text transform="translate(288.2,1422.2) scale(0.96,1)" text-anchor="end" class="ax">-14%</text>
<text transform="translate(288.2,1563.0) scale(0.96,1)" text-anchor="end" class="ax">-21%</text>
<text transform="translate(288.2,1703.8) scale(0.96,1)" text-anchor="end" class="ax">-28%</text>
<text transform="translate(288.2,1844.6) scale(0.96,1)" text-anchor="end" class="ax">-35%</text>
<text transform="translate(334.6,1858.4) rotate(-90) scale(0.945,1)" text-anchor="end" class="ax">1963</text>
<text transform="translate(385.6,1858.4) rotate(-90) scale(0.945,1)" text-anchor="end" class="ax">1968</text>
<text transform="translate(436.6,1858.4) rotate(-90) scale(0.945,1)" text-anchor="end" class="ax">1973</text>
<text transform="translate(487.6,1858.4) rotate(-90) scale(0.945,1)" text-anchor="end" class="ax">1978</text>
<text transform="translate(538.6,1858.4) rotate(-90) scale(0.945,1)" text-anchor="end" class="ax">1983</text>
<text transform="translate(589.6,1858.4) rotate(-90) scale(0.945,1)" text-anchor="end" class="ax">1988</text>
<text transform="translate(640.6,1858.4) rotate(-90) scale(0.945,1)" text-anchor="end" class="ax">1993</text>
<text transform="translate(691.6,1858.4) rotate(-90) scale(0.945,1)" text-anchor="end" class="ax">1998</text>
<text transform="translate(742.6,1858.4) rotate(-90) scale(0.945,1)" text-anchor="end" class="ax">2003</text>
<text transform="translate(793.6,1858.4) rotate(-90) scale(0.945,1)" text-anchor="end" class="ax">2008</text>
<text transform="translate(844.6,1858.4) rotate(-90) scale(0.945,1)" text-anchor="end" class="ax">2013</text>
<text x="328.0" y="1116.9" class="ttl" textLength="399.7" lengthAdjust="spacingAndGlyphs">Investment/Large Cap</text>
<text x="571.3" y="1968.9" class="al" textLength="58.6" lengthAdjust="spacingAndGlyphs">Year</text>
<text transform="translate(198.7,1564.0) rotate(-90)" class="al" textLength="164" lengthAdjust="spacingAndGlyphs">Drawdowns</text>
<line x1="1214.4" x2="1808.2" y1="1129.95" y2="1129.95" stroke="#D9D9D9" stroke-width="1.25"/>
<line x1="1214.4" x2="1808.2" y1="1270.76" y2="1270.76" stroke="#D9D9D9" stroke-width="1.25"/>
<line x1="1214.4" x2="1808.2" y1="1411.57" y2="1411.57" stroke="#D9D9D9" stroke-width="1.25"/>
<line x1="1214.4" x2="1808.2" y1="1552.38" y2="1552.38" stroke="#D9D9D9" stroke-width="1.25"/>
<line x1="1214.4" x2="1808.2" y1="1693.19" y2="1693.19" stroke="#D9D9D9" stroke-width="1.25"/>
<line x1="1214.4" x2="1808.2" y1="1834.00" y2="1834.00" stroke="#D9D9D9" stroke-width="1.25"/>
<polygon fill="#8FCFFD" points="1214.4,1130.9 1214.4,1130.9 1215.0,1173.7 1216.3,1147.5 1217.2,1134.4 1218.2,1160.6 1219.1,1130.9 1219.1,1130.9"/>
<polygon fill="#8FCFFD" points="1225.3,1130.9 1225.3,1130.9 1225.9,1147.5 1226.6,1130.9 1226.6,1130.9"/>
<polygon fill="#8FCFFD" points="1227.7,1130.9 1227.7,1130.9 1228.5,1175.6 1229.6,1213.0 1230.9,1194.3 1232.2,1188.7 1233.2,1203.7 1234.3,1166.2 1235.6,1155.0 1236.9,1140.0 1238.0,1132.5 1239.0,1147.5 1240.3,1174.6 1241.2,1147.5 1242.2,1130.9 1242.2,1130.9"/>
<polygon fill="#8FCFFD" points="1243.1,1130.9 1243.1,1130.9 1244.0,1156.8 1245.0,1173.7 1246.3,1156.8 1247.2,1130.9 1247.2,1130.9"/>
<polygon fill="#8FCFFD" points="1249.6,1130.9 1249.6,1130.9 1250.2,1259.9 1251.1,1334.8 1252.5,1391.0 1254.3,1428.5 1255.6,1456.6 1256.6,1492.2 1257.5,1428.5 1258.6,1372.3 1260.0,1419.1 1261.3,1455.7 1262.2,1391.0 1263.1,1297.4 1264.3,1216.8 1265.2,1259.9 1266.5,1299.2 1267.4,1222.4 1268.4,1130.9 1268.4,1130.9"/>
<polygon fill="#8FCFFD" points="1269.3,1130.9 1269.3,1130.9 1270.3,1147.5 1271.2,1163.4 1272.5,1147.5 1274.0,1130.9 1274.9,1143.7 1275.9,1130.9 1275.9,1130.9"/>
<polygon fill="#8FCFFD" points="1278.7,1130.9 1278.7,1130.9 1279.6,1184.9 1280.6,1239.3 1281.9,1278.6 1283.4,1327.3 1284.3,1278.6 1285.2,1203.7 1286.2,1130.9 1286.2,1130.9"/>
<polygon fill="#8FCFFD" points="1289.9,1130.9 1289.9,1130.9 1290.9,1222.4 1291.4,1306.7 1292.4,1222.4 1293.1,1166.2 1294.6,1134.4 1295.6,1166.2 1296.5,1203.7 1297.4,1226.2 1298.7,1184.9 1300.2,1147.5 1301.2,1136.2 1302.1,1166.2 1303.0,1194.3 1304.4,1213.0 1305.5,1230.8 1306.8,1199.9 1308.3,1220.5 1309.6,1194.3 1310.9,1166.2 1312.4,1138.1 1313.3,1130.9 1313.3,1130.9"/>
<polygon fill="#8FCFFD" points="1315.8,1130.9 1315.8,1130.9 1316.5,1138.1 1317.3,1130.9 1317.3,1130.9"/>
<polygon fill="#8FCFFD" points="1320.8,1130.9 1320.8,1130.9 1321.8,1184.9 1322.7,1271.1 1324.2,1291.7 1325.0,1222.4 1325.9,1147.5 1326.8,1130.9 1326.8,1130.9"/>
<polygon fill="#8FCFFD" points="1335.3,1130.9 1335.3,1130.9 1336.2,1147.5 1336.8,1130.9 1337.7,1130.9 1338.6,1166.2 1339.6,1222.4 1340.5,1269.3 1341.5,1297.4 1342.4,1323.6 1343.7,1299.2 1344.8,1295.5 1346.1,1278.6 1347.4,1241.1 1348.9,1184.9 1349.9,1130.9 1349.9,1130.9"/>
<polygon fill="#8FCFFD" points="1351.8,1130.9 1351.8,1130.9 1352.3,1147.5 1353.3,1168.1 1354.6,1153.1 1355.5,1151.2 1356.8,1175.6 1358.3,1214.0 1359.3,1175.6 1360.2,1143.7 1361.5,1138.1 1362.6,1130.9 1362.6,1130.9"/>
<polygon fill="#8FCFFD" points="1363.9,1130.9 1363.9,1130.9 1364.9,1147.5 1366.2,1184.9 1367.7,1216.8 1368.6,1209.3 1369.6,1217.7 1370.9,1184.9 1372.4,1130.9 1372.4,1130.9"/>
<polygon fill="#B0E461" points="1372.7,1130.9 1372.7,1130.9 1373.3,1166.2 1374.2,1194.3 1375.2,1203.7 1376.5,1232.7 1377.6,1203.7 1378.5,1147.5 1379.3,1175.6 1380.2,1222.4 1381.2,1247.7 1382.1,1213.0 1383.2,1194.3 1384.2,1184.9 1385.1,1178.4 1386.0,1199.9 1387.0,1196.2 1387.9,1222.4 1389.2,1259.9 1390.2,1297.4 1391.1,1325.5 1392.4,1334.8 1393.5,1345.1 1394.5,1325.5 1395.4,1315.2 1396.3,1347.9 1397.7,1391.0 1397.9,1450.0 1399.3,1519.0 1400.4,1574.0 1401.1,1643.0 1401.7,1703.8 1402.5,1650.0 1402.5,1130.9 1402.5,1130.9"/>
<polygon fill="#8FCFFD" points="1402.5,1130.9 1402.5,1130.9 1402.5,1650.0 1402.4,1691.0 1404.1,1554.8 1407.3,1644.5 1407.6,1602.0 1407.9,1574.0 1409.0,1553.0 1410.0,1519.0 1411.0,1491.0 1412.8,1484.5 1413.2,1428.5 1414.5,1353.6 1415.8,1297.4 1417.3,1259.9 1418.8,1222.4 1420.7,1184.9 1422.4,1188.7 1423.3,1156.8 1424.8,1147.5 1426.1,1130.9 1426.1,1130.9"/>
<polygon fill="#8FCFFD" points="1427.1,1130.9 1427.1,1130.9 1427.6,1138.1 1428.2,1130.9 1428.2,1130.9"/>
<polygon fill="#8FCFFD" points="1438.3,1130.9 1438.3,1130.9 1439.8,1147.5 1440.7,1184.9 1442.2,1237.4 1443.6,1203.7 1444.9,1166.2 1446.0,1222.4 1447.3,1290.8 1448.2,1269.3 1449.2,1237.4 1450.5,1278.6 1451.6,1297.4 1452.9,1278.6 1454.2,1229.9 1455.2,1297.4 1456.3,1353.6 1457.6,1391.0 1459.1,1447.2 1461.0,1452.9 1462.3,1437.9 1463.6,1409.8 1465.1,1353.6 1466.4,1347.9 1467.9,1353.6 1469.2,1368.5 1470.4,1316.1 1471.7,1241.1 1472.6,1222.4 1474.1,1213.0 1475.4,1184.9 1476.9,1130.9 1476.9,1130.9"/>
<polygon fill="#8FCFFD" points="1477.8,1130.9 1477.8,1130.9 1478.6,1156.8 1479.5,1130.9 1480.1,1130.9 1480.7,1147.5 1481.4,1130.9 1481.4,1130.9"/>
<polygon fill="#8FCFFD" points="1483.5,1130.9 1483.5,1130.9 1484.4,1183.1 1485.3,1130.9 1485.3,1130.9"/>
<polygon fill="#8FCFFD" points="1491.3,1130.9 1491.3,1130.9 1492.6,1147.5 1494.1,1158.7 1495.5,1156.8 1497.0,1166.2 1498.5,1186.8 1499.8,1160.6 1501.1,1134.4 1502.0,1156.8 1503.1,1203.7 1504.4,1246.8 1505.8,1203.7 1506.9,1130.9 1506.9,1130.9"/>
<polygon fill="#8FCFFD" points="1508.4,1130.9 1508.4,1130.9 1509.0,1203.7 1510.3,1278.6 1511.6,1331.1 1512.7,1346.1 1514.1,1342.3 1515.0,1347.9 1516.5,1351.7 1517.8,1391.0 1519.7,1428.5 1521.5,1458.5 1522.1,1391.0 1522.9,1334.8 1523.8,1278.6 1524.4,1222.4 1525.3,1166.2 1526.2,1130.9 1526.2,1130.9"/>
<polygon fill="#8FCFFD" points="1528.1,1130.9 1528.1,1130.9 1529.0,1184.9 1530.4,1222.4 1531.5,1263.6 1532.4,1222.4 1533.3,1166.2 1534.3,1130.9 1534.3,1130.9"/>
<polygon fill="#8FCFFD" points="1535.6,1130.9 1535.6,1130.9 1536.5,1138.1 1537.5,1153.1 1538.8,1138.1 1539.9,1155.0 1541.2,1143.7 1542.7,1149.3 1544.0,1134.4 1545.0,1130.9 1545.0,1130.9"/>
<polygon fill="#8FCFFD" points="1549.6,1130.9 1549.6,1130.9 1550.6,1156.8 1552.1,1164.3 1553.4,1155.0 1554.7,1154.0 1556.2,1184.9 1557.7,1214.9 1559.0,1184.9 1560.0,1218.7 1560.9,1166.2 1561.8,1130.9 1561.8,1130.9"/>
<polygon fill="#8FCFFD" points="1565.9,1130.9 1565.9,1130.9 1567.1,1184.9 1568.4,1276.7 1569.7,1222.4 1571.2,1184.9 1572.7,1156.8 1574.0,1147.5 1575.5,1130.9 1575.5,1130.9"/>
<polygon fill="#8FCFFD" points="1579.6,1130.9 1579.6,1130.9 1580.6,1184.9 1581.5,1222.4 1582.8,1231.8 1584.3,1274.9 1585.2,1222.4 1586.2,1156.8 1587.5,1147.5 1588.4,1177.4 1589.6,1156.8 1590.9,1134.4 1591.8,1171.8 1592.7,1130.9 1592.7,1130.9"/>
<polygon fill="#8FCFFD" points="1594.2,1130.9 1594.2,1130.9 1595.0,1184.9 1596.1,1231.8 1597.4,1269.3 1599.3,1334.8 1601.2,1398.5 1602.1,1316.1 1603.0,1297.4 1604.0,1203.7 1605.3,1166.2 1606.8,1134.4 1607.7,1130.9 1607.7,1130.9"/>
<polygon fill="#8FCFFD" points="1610.2,1130.9 1610.2,1130.9 1610.9,1222.4 1611.7,1280.5 1612.4,1231.8 1613.3,1184.9 1614.7,1130.9 1614.7,1130.9"/>
<polygon fill="#8FCFFD" points="1619.0,1130.9 1619.0,1130.9 1619.9,1147.5 1620.8,1171.8 1621.8,1147.5 1622.7,1130.9 1623.3,1130.9 1624.0,1183.1 1625.0,1147.5 1625.9,1130.9 1625.9,1130.9"/>
<polygon fill="#8FCFFD" points="1627.4,1130.9 1627.4,1130.9 1628.3,1222.4 1629.3,1297.4 1630.6,1376.0 1631.1,1278.6 1631.7,1184.9 1632.5,1130.9 1632.5,1130.9"/>
<polygon fill="#8FCFFD" points="1635.8,1130.9 1635.8,1130.9 1636.8,1166.2 1637.7,1203.7 1638.6,1233.7 1639.6,1184.9 1640.9,1162.5 1642.4,1153.1 1643.9,1130.9 1643.9,1130.9"/>
<polygon fill="#FF9438" points="1652.7,1130.9 1652.7,1130.9 1653.6,1203.7 1654.6,1278.6 1655.5,1325.5 1656.8,1353.6 1657.9,1391.0 1658.9,1428.5 1659.3,1450.0 1660.2,1487.5 1660.7,1498.7 1662.1,1468.7 1663.0,1493.1 1664.5,1476.2 1665.8,1478.1 1666.7,1506.2 1668.1,1515.6 1669.2,1532.4 1670.5,1515.6 1671.4,1524.9 1672.7,1538.1 1673.7,1530.6 1674.6,1553.0 1675.2,1502.5 1676.5,1515.6 1678.4,1522.1 1679.3,1506.2 1680.2,1478.1 1681.2,1459.4 1681.7,1449.1 1683.2,1447.2 1684.2,1419.1 1685.1,1391.0 1686.4,1387.3 1687.4,1374.2 1687.9,1387.3 1688.9,1402.3 1690.2,1419.1 1690.7,1450.0 1691.5,1487.5 1692.4,1543.7 1693.5,1571.8 1694.8,1596.1 1695.8,1602.7 1696.3,1543.7 1697.1,1528.7 1698.2,1534.3 1699.2,1562.4 1700.5,1603.6 1701.4,1562.4 1702.3,1543.7 1703.3,1487.5 1704.2,1465.0 1704.8,1456.6 1705.5,1478.1 1706.1,1515.6 1707.4,1553.0 1708.5,1574.6 1709.5,1543.7 1710.2,1524.9 1711.1,1571.8 1711.7,1603.6 1712.1,1543.7 1712.1,1130.9 1712.1,1130.9"/>
<polygon fill="#8FCFFD" points="1712.1,1130.9 1712.1,1130.9 1712.1,1475.3 1712.8,1466.0 1713.6,1428.5 1715.5,1383.5 1716.4,1334.8 1717.3,1297.4 1718.3,1222.4 1719.6,1166.2 1720.7,1134.4 1721.6,1175.6 1723.0,1147.5 1724.3,1134.4 1725.8,1132.5 1726.7,1130.9 1726.7,1130.9"/>
<polygon fill="#8FCFFD" points="1730.4,1130.9 1730.4,1130.9 1731.4,1166.2 1732.3,1203.7 1733.3,1256.1 1734.6,1278.6 1735.7,1308.6 1736.6,1259.9 1737.9,1222.4 1739.4,1175.6 1740.7,1147.5 1741.7,1130.9 1742.6,1130.9 1743.6,1132.5 1744.5,1130.9 1744.5,1130.9"/>
<polygon fill="#8FCFFD" points="1753.9,1130.9 1753.9,1130.9 1754.8,1147.5 1756.1,1156.8 1757.6,1209.3 1758.5,1175.6 1759.9,1153.1 1761.0,1166.2 1762.3,1147.5 1763.6,1132.5 1764.7,1147.5 1765.7,1171.8 1766.4,1130.9 1766.4,1130.9"/>
<polygon fill="#FFC301" points="1766.6,1130.9 1766.6,1130.9 1767.5,1147.5 1768.9,1184.9 1770.4,1203.7 1771.7,1241.1 1773.0,1278.6 1774.1,1316.1 1775.0,1353.6 1776.0,1391.0 1776.5,1428.5 1776.9,1450.0 1777.8,1483.7 1779.2,1459.4 1780.5,1465.9 1781.6,1485.6 1782.5,1450.0 1783.5,1409.8 1784.4,1372.3 1785.3,1351.7 1786.3,1372.3 1787.6,1409.8 1788.9,1429.4 1790.0,1409.8 1790.8,1372.3 1791.7,1336.7 1792.8,1353.6 1793.8,1372.3 1794.7,1409.8 1796.0,1447.2 1796.6,1450.0 1797.9,1487.5 1798.8,1508.1 1799.8,1524.9 1800.7,1545.6 1801.6,1581.1 1802.6,1616.7 1803.3,1562.4 1803.3,1130.9 1803.3,1130.9"/>
<polygon fill="#8FCFFD" points="1803.3,1130.9 1803.3,1130.9 1803.3,1562.4 1804.4,1560.5 1805.4,1571.8 1806.5,1592.4 1807.3,1562.4 1808.2,1551.2 1808.2,1130.9 1808.2,1130.9"/>
<line x1="1214.4" x2="1808.2" y1="1129.95" y2="1129.95" stroke="#D9D9D9" stroke-width="1.8"/>
<line x1="1214.4" x2="1214.4" y1="1130.0" y2="1141.5" stroke="#DEDEDE" stroke-width="1.6"/>
<line x1="1268.5" x2="1268.5" y1="1130.0" y2="1141.5" stroke="#DEDEDE" stroke-width="1.6"/>
<line x1="1322.6" x2="1322.6" y1="1130.0" y2="1141.5" stroke="#DEDEDE" stroke-width="1.6"/>
<line x1="1376.7" x2="1376.7" y1="1130.0" y2="1141.5" stroke="#DEDEDE" stroke-width="1.6"/>
<line x1="1430.8" x2="1430.8" y1="1130.0" y2="1141.5" stroke="#DEDEDE" stroke-width="1.6"/>
<line x1="1484.9" x2="1484.9" y1="1130.0" y2="1141.5" stroke="#DEDEDE" stroke-width="1.6"/>
<line x1="1539.0" x2="1539.0" y1="1130.0" y2="1141.5" stroke="#DEDEDE" stroke-width="1.6"/>
<line x1="1593.1" x2="1593.1" y1="1130.0" y2="1141.5" stroke="#DEDEDE" stroke-width="1.6"/>
<line x1="1647.2" x2="1647.2" y1="1130.0" y2="1141.5" stroke="#DEDEDE" stroke-width="1.6"/>
<line x1="1701.3" x2="1701.3" y1="1130.0" y2="1141.5" stroke="#DEDEDE" stroke-width="1.6"/>
<line x1="1755.4" x2="1755.4" y1="1130.0" y2="1141.5" stroke="#DEDEDE" stroke-width="1.6"/>
<text transform="translate(1180.7,1140.5) scale(0.96,1)" text-anchor="end" class="ax">0%</text>
<text transform="translate(1180.7,1281.4) scale(0.96,1)" text-anchor="end" class="ax">-4%</text>
<text transform="translate(1180.7,1422.2) scale(0.96,1)" text-anchor="end" class="ax">-8%</text>
<text transform="translate(1180.7,1563.0) scale(0.96,1)" text-anchor="end" class="ax">-12%</text>
<text transform="translate(1180.7,1703.8) scale(0.96,1)" text-anchor="end" class="ax">-16%</text>
<text transform="translate(1180.7,1844.6) scale(0.96,1)" text-anchor="end" class="ax">-20%</text>
<text transform="translate(1228.4,1858.4) rotate(-90) scale(0.945,1)" text-anchor="end" class="ax">1963</text>
<text transform="translate(1282.5,1858.4) rotate(-90) scale(0.945,1)" text-anchor="end" class="ax">1968</text>
<text transform="translate(1336.6,1858.4) rotate(-90) scale(0.945,1)" text-anchor="end" class="ax">1973</text>
<text transform="translate(1390.7,1858.4) rotate(-90) scale(0.945,1)" text-anchor="end" class="ax">1978</text>
<text transform="translate(1444.8,1858.4) rotate(-90) scale(0.945,1)" text-anchor="end" class="ax">1983</text>
<text transform="translate(1498.9,1858.4) rotate(-90) scale(0.945,1)" text-anchor="end" class="ax">1988</text>
<text transform="translate(1553.0,1858.4) rotate(-90) scale(0.945,1)" text-anchor="end" class="ax">1993</text>
<text transform="translate(1607.1,1858.4) rotate(-90) scale(0.945,1)" text-anchor="end" class="ax">1998</text>
<text transform="translate(1661.2,1858.4) rotate(-90) scale(0.945,1)" text-anchor="end" class="ax">2003</text>
<text transform="translate(1715.3,1858.4) rotate(-90) scale(0.945,1)" text-anchor="end" class="ax">2008</text>
<text transform="translate(1769.4,1858.4) rotate(-90) scale(0.945,1)" text-anchor="end" class="ax">2013</text>
<text x="1225.7" y="1114.4" class="ttl" textLength="399.0" lengthAdjust="spacingAndGlyphs">Investment/Small Cap</text>
<text x="1482.2" y="1968.9" class="al" textLength="58.6" lengthAdjust="spacingAndGlyphs">Year</text>
<text transform="translate(1092.5,1564.0) rotate(-90)" class="al" textLength="164" lengthAdjust="spacingAndGlyphs">Drawdowns</text>
<rect x="375.1" y="2024.3" width="19" height="19" fill="#8FCFFD"/>
<text x="402.4" y="2044.3" class="al" textLength="165.1" lengthAdjust="spacingAndGlyphs">Drawdowns</text>
<rect x="662.0" y="2024.3" width="19" height="19" fill="#B0E461"/>
<text x="689.3" y="2044.3" class="al" textLength="135.3" lengthAdjust="spacingAndGlyphs">1st Worst</text>
<rect x="375.1" y="2072.1" width="19" height="19" fill="#FFC301"/>
<text x="402.4" y="2092.5" class="al" textLength="146.8" lengthAdjust="spacingAndGlyphs">2nd Worst</text>
<rect x="662.0" y="2072.1" width="19" height="19" fill="#FF9438"/>
<text x="689.3" y="2092.5" class="al" textLength="140.2" lengthAdjust="spacingAndGlyphs">3rd Worst</text>
<rect x="1273.8" y="2024.3" width="19" height="19" fill="#8FCFFD"/>
<text x="1300.8" y="2044.3" class="al" textLength="165.7" lengthAdjust="spacingAndGlyphs">Drawdowns</text>
<rect x="1571.1" y="2024.3" width="19" height="19" fill="#B0E461"/>
<text x="1599.1" y="2044.3" class="al" textLength="134.6" lengthAdjust="spacingAndGlyphs">1st Worst</text>
<rect x="1273.8" y="2072.1" width="19" height="19" fill="#FFC301"/>
<text x="1300.8" y="2092.5" class="al" textLength="147.7" lengthAdjust="spacingAndGlyphs">2nd Worst</text>
<rect x="1571.1" y="2072.1" width="19" height="19" fill="#FF9438"/>
<text x="1599.1" y="2092.5" class="al" textLength="140.2" lengthAdjust="spacingAndGlyphs">3rd Worst</text>
<text x="339.5" y="70.4" class="fig" textLength="154" lengthAdjust="spacingAndGlyphs">Figure A</text>
<text x="493" y="70.4" class="fig" style="font-size:23px" stroke="#333" stroke-width="0.8" textLength="15" lengthAdjust="spacingAndGlyphs">1</text>
<text x="509" y="70.4" class="fig">.</text>
<text x="536.5" y="70.4" class="fig" textLength="119.5" lengthAdjust="spacingAndGlyphs">(con’t)</text>
<text x="190" y="2280.2" class="sline" textLength="872" lengthAdjust="spacingAndGlyphs">Source: Research Affiliates, LLC, using data from Kenneth R. French Data Library.</text>
<text x="191.9" y="2379.1" class="dis" textLength="1114.9" lengthAdjust="spacingAndGlyphs">Any use of the above content is subject to all important legal disclosures, disclaimers, and terms of use found at</text>
<text x="191.9" y="2405.8" class="dis" fill="#666" style="fill:#666" text-decoration="underline" textLength="268.6" lengthAdjust="spacingAndGlyphs">www.researchaffiliates.com</text>
<text x="460.5" y="2405.8" class="dis" textLength="712.5" lengthAdjust="spacingAndGlyphs">, which are fully incorporated by reference as if set out herein at length.</text>
<path d="M1618.6,2346.4 L1618.6,2415.6 L1548.3,2415.6 A70.3,69.2 0 0 1 1618.6,2346.4 Z" fill="#0061A9"/>
<g transform="translate(1560,2360) scale(0.035125)"><path fill="#fff" fill-rule="evenodd" d="M310,1135 L490,1135 L490,930 Q490,850 560,850 L765,850 L765,1135 L910,1135 L910,850 L1195,850 L1195,1135 L1365,1135 Q1335,1100 1335,1050 L1335,640 C1335,480 1210,380 1050,380 C960,380 880,420 835,490 C790,420 700,380 600,380 C440,380 320,480 320,620 C320,700 360,760 430,790 C380,810 345,870 345,950 L345,1050 Q345,1100 310,1135 Z M770,740 L600,740 C520,740 470,700 470,635 C470,570 520,525 600,525 C700,525 770,570 770,650 Z M910,740 L910,650 C910,570 970,525 1050,525 C1130,525 1195,570 1195,650 L1195,740 Z"/></g>
<text x="1626.5" y="2380.5" class="logo" textLength="122" lengthAdjust="spacingAndGlyphs">research</text>
<text x="1627.3" y="2406.4" class="logo" textLength="125" lengthAdjust="spacingAndGlyphs">affiliates</text>
<text x="1752.3" y="2364.6" font-family='"Liberation Sans", Arial, sans-serif' font-size="4.8" font-weight="bold" fill="#0061A9">TM</text>
</svg>
</body></html>
